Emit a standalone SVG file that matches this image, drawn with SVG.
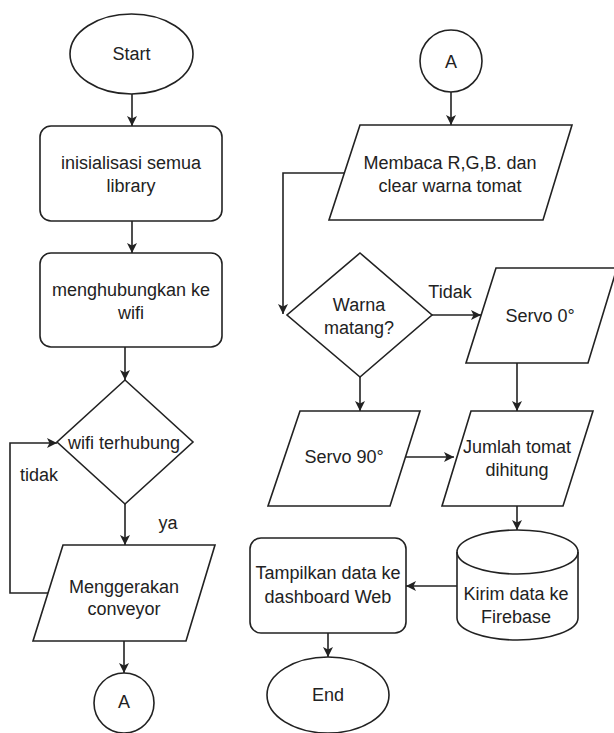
<svg xmlns="http://www.w3.org/2000/svg" width="614" height="733" viewBox="0 0 614 733">
<style>
.s{fill:#ffffff;stroke:#222222;stroke-width:1.6}
.c{fill:none;stroke:#222222;stroke-width:1.6}
text{font-family:"Liberation Sans",Arial,sans-serif;font-size:18px;fill:#222222;text-anchor:middle;dominant-baseline:central}
</style>
<defs>
<marker id="arr" markerUnits="userSpaceOnUse" markerWidth="12" markerHeight="12" refX="10" refY="5" orient="auto">
<path d="M0,0 L10,5 L0,10 L2.5,5 Z" fill="#222222"/>
</marker>
</defs>
<rect width="614" height="733" fill="#ffffff"/>
<g id="connectors">
<path class="c" d="M132,94 V126" marker-end="url(#arr)"/>
<path class="c" d="M132,221 V253" marker-end="url(#arr)"/>
<path class="c" d="M125,347 V380" marker-end="url(#arr)"/>
<path class="c" d="M125,504 V545" marker-end="url(#arr)"/>
<path class="c" d="M48,593 H10 V443 H57" marker-end="url(#arr)"/>
<path class="c" d="M124,641 V673" marker-end="url(#arr)"/>
<path class="c" d="M451,92 V125" marker-end="url(#arr)"/>
<path class="c" d="M345,173 H283 V314" marker-end="url(#arr)"/>
<path class="c" d="M432,315 H481" marker-end="url(#arr)"/>
<path class="c" d="M360,377 V411" marker-end="url(#arr)"/>
<path class="c" d="M517,363 V411" marker-end="url(#arr)"/>
<path class="c" d="M406,457 H454" marker-end="url(#arr)"/>
<path class="c" d="M517,506 V530" marker-end="url(#arr)"/>
<path class="c" d="M457,586 H406" marker-end="url(#arr)"/>
<path class="c" d="M328,633 V657" marker-end="url(#arr)"/>
<text x="168" y="523">ya</text>
<text x="39" y="475">tidak</text>
<text x="450" y="292">Tidak</text>
</g>
<g id="start">
<ellipse class="s" cx="131.5" cy="54" rx="61.5" ry="40"/>
<text x="131.5" y="54">Start</text>
</g>
<g id="init">
<rect class="s" x="40" y="126" width="182" height="95" rx="11"/>
<text x="131" y="163">inisialisasi semua</text>
<text x="131" y="186">library</text>
</g>
<g id="wifi">
<rect class="s" x="40" y="253" width="182" height="94" rx="11"/>
<text x="131" y="290">menghubungkan ke</text>
<text x="131" y="313">wifi</text>
</g>
<g id="cek-wifi">
<polygon class="s" points="125,380 193,442 125,504 57,442"/>
<text x="124" y="443">wifi terhubung</text>
</g>
<g id="conveyor">
<polygon class="s" points="63,545 215,545 186,641 33,641"/>
<text x="124" y="587">Menggerakan</text>
<text x="124" y="609">conveyor</text>
</g>
<g id="a-out">
<circle class="s" cx="124" cy="703" r="30"/>
<text x="124" y="702">A</text>
</g>
<g id="a-in">
<circle class="s" cx="451" cy="61" r="31"/>
<text x="451" y="62">A</text>
</g>
<g id="membaca">
<polygon class="s" points="360,125 572,125 543,220 329,220"/>
<text x="450" y="163">Membaca R,G,B. dan</text>
<text x="450" y="186">clear warna tomat</text>
</g>
<g id="matang">
<polygon class="s" points="360,253 432,315 360,377 287,315"/>
<text x="359" y="305">Warna</text>
<text x="359" y="328">matang?</text>
</g>
<g id="servo0">
<polygon class="s" points="496,268 617,268 588,363 466,363"/>
<text x="540" y="316">Servo 0°</text>
</g>
<g id="servo90">
<polygon class="s" points="300,411 420,411 390,506 268,506"/>
<text x="344" y="457">Servo 90°</text>
</g>
<g id="jumlah">
<polygon class="s" points="471,411 593,411 563,506 442,506"/>
<text x="517" y="447">Jumlah tomat</text>
<text x="517" y="470">dihitung</text>
</g>
<g id="firebase">
<path class="s" d="M457,552 A60.5,22 0 0 1 578,552 V618 A60.5,22 0 0 1 457,618 Z"/>
<path class="c" d="M457,552 A60.5,22 0 0 0 578,552"/>
<text x="516" y="594">Kirim data ke</text>
<text x="516" y="617">Firebase</text>
</g>
<g id="tampilkan">
<rect class="s" x="250" y="538" width="156" height="95" rx="11"/>
<text x="328" y="573">Tampilkan data ke</text>
<text x="328" y="597">dashboard Web</text>
</g>
<g id="end">
<ellipse class="s" cx="328" cy="695" rx="61" ry="38"/>
<text x="328" y="695">End</text>
</g>
</svg>
